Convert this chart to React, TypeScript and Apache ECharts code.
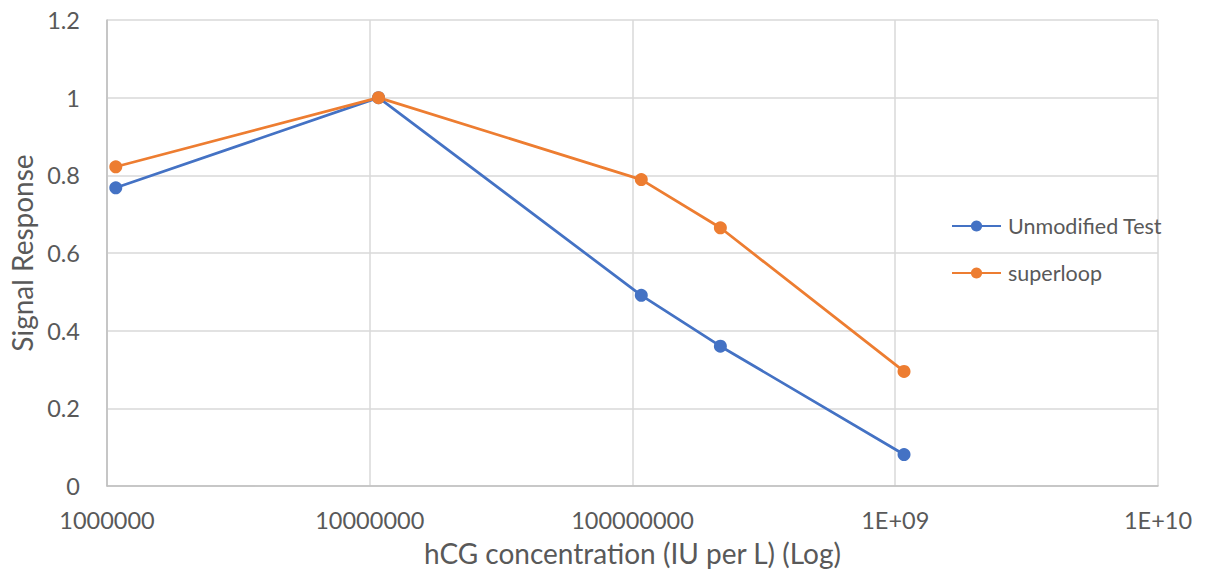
import React, { useEffect, useRef } from "react";
import * as echarts from "echarts";

const concentrations = [1.08e6, 1.08e7, 1.08e8, 2.16e8, 1.08e9];
const unmodifiedTest = [0.768, 1.0, 0.491, 0.36, 0.081];
const superloop = [0.822, 1.0, 0.789, 0.665, 0.295];
const seriesNames = ["Unmodified Test", "superloop"];
const xTitle = "hCG concentration (IU per L) (Log)";
const yTitle = "Signal Response";

const FONT = "Lato";
const GRAY = "#595959";

function fmtX(v: number): string {
  if (v >= 1e9) {
    const e = Math.round(Math.log10(v));
    return "1E+" + (e < 10 ? "0" + e : String(e));
  }
  return String(Math.round(v));
}

export default function App() {
  const ref = useRef<HTMLDivElement>(null);
  useEffect(() => {
    if (!ref.current) return;
    const chart = echarts.init(ref.current, null, { renderer: "svg" });
    chart.setOption({
      animation: false,
      backgroundColor: "#ffffff",
      grid: { left: 107, right: 53, top: 20, bottom: 95 },
      legend: {
        orient: "vertical",
        left: 946,
        top: 210,
        itemWidth: 49,
        itemHeight: 14,
        itemGap: 25,
        textStyle: { fontFamily: FONT, fontSize: 21.5, color: GRAY, padding: [0, 0, 0, 2] },
        data: seriesNames,
      },
      xAxis: {
        type: "log",
        logBase: 10,
        min: 1e6,
        max: 1e10,
        name: xTitle,
        nameLocation: "middle",
        nameGap: 53,
        nameTextStyle: { fontFamily: FONT, fontSize: 28, color: GRAY },
        axisLine: { show: true, lineStyle: { color: "#bfbfbf", width: 1.5 } },
        axisTick: { show: false },
        minorTick: { show: false },
        splitLine: { show: true, lineStyle: { color: "#d9d9d9", width: 1.5 } },
        axisLabel: {
          fontFamily: FONT,
          fontSize: 23.5,
          color: GRAY,
          margin: 22,
          formatter: (v: number) => fmtX(v),
        },
      },
      yAxis: {
        type: "value",
        min: 0,
        max: 1.2,
        interval: 0.2,
        name: yTitle,
        nameLocation: "middle",
        nameRotate: 90,
        nameGap: 69,
        nameTextStyle: { fontFamily: FONT, fontSize: 28, color: GRAY },
        axisLine: { show: true, lineStyle: { color: "#bfbfbf", width: 1.5 } },
        axisTick: { show: false },
        splitLine: { show: true, lineStyle: { color: "#d9d9d9", width: 1.5 } },
        axisLabel: {
          fontFamily: FONT,
          fontSize: 23.5,
          color: GRAY,
          margin: 27,
          formatter: (v: number) => String(Math.round(v * 10) / 10),
        },
      },
      series: [
        {
          name: seriesNames[0],
          type: "line",
          data: concentrations.map((c, i) => [c, unmodifiedTest[i]]),
          symbol: "circle",
          symbolSize: 13,
          itemStyle: { color: "#4472C4" },
          lineStyle: { color: "#4472C4", width: 2.75 },
        },
        {
          name: seriesNames[1],
          type: "line",
          data: concentrations.map((c, i) => [c, superloop[i]]),
          symbol: "circle",
          symbolSize: 13,
          itemStyle: { color: "#ED7D31" },
          lineStyle: { color: "#ED7D31", width: 2.75 },
        },
      ],
    });
    return () => chart.dispose();
  }, []);
  return <div ref={ref} style={{ width: 1211, height: 581, position: "absolute", left: 0, top: 0 }} />;
}
